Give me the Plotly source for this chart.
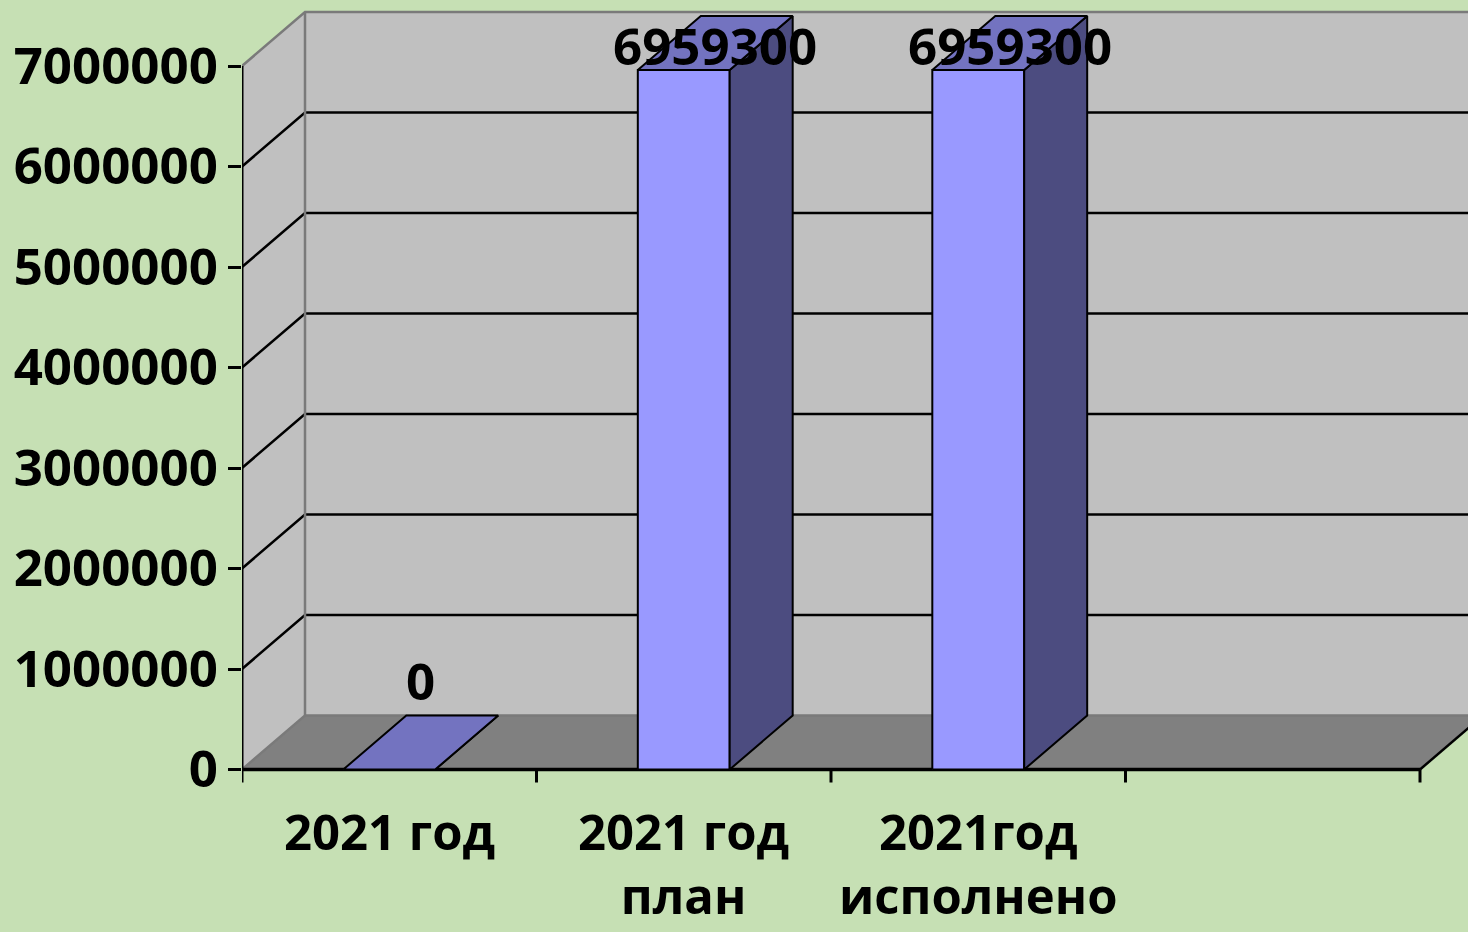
import plotly.graph_objects as go

# ---- data ----
categories = ["2021 год", "2021 год<br>план", "2021год<br>исполнено", ""]
values = [0, 6959300, 6959300, None]
value_labels = ["0", "6959300", "6959300", None]
ytick_vals = [0, 1000000, 2000000, 3000000, 4000000, 5000000, 6000000, 7000000]
ytick_text = [str(v) for v in ytick_vals]

# ---- geometry (in axis units) ----
PX_X = 294.5          # pixels per category
PX_Y = 100.5 / 1e6    # pixels per value unit
DX = 63 / PX_X        # depth offset in category units
DY = 54 / PX_Y        # depth offset in value units
HALF_W = 0.156        # half bar width
NCAT = len(categories)
YMAX = 7000000

BG = "#C6E0B4"
WALL = "#C0C0C0"
FLOOR = "#808080"
EDGE = "#7A7A7A"
FRONT = "#9999FF"
SIDE = "#4C4C80"
TOP = "#7373C0"

fig = go.Figure()


def poly(xs, ys, fill, line_color="black", width=2):
    fig.add_trace(go.Scatter(x=list(xs) + [xs[0]], y=list(ys) + [ys[0]], mode="lines",
                             fill="toself", fillcolor=fill,
                             line=dict(color=line_color, width=width),
                             hoverinfo="skip", showlegend=False))


def line(xs, ys, color="black", width=2):
    fig.add_trace(go.Scatter(x=xs, y=ys, mode="lines", line=dict(color=color, width=width),
                             hoverinfo="skip", showlegend=False))


# back wall
poly([DX, NCAT + DX + 1, NCAT + DX + 1, DX], [DY, DY, YMAX + DY, YMAX + DY], WALL, WALL, 0)
# left wall
poly([0, DX, DX, 0], [0, DY, YMAX + DY, YMAX], WALL, WALL, 0)
# floor
poly([0, NCAT, NCAT + DX, DX], [0, 0, DY, DY], FLOOR, FLOOR, 0)

# gridlines
for v in ytick_vals[1:-1]:
    line([0, DX, NCAT + DX + 1], [v, v + DY, v + DY], "black", 2.5)
# top edges & corner
line([0, DX, NCAT + DX + 1], [YMAX, YMAX + DY, YMAX + DY], EDGE, 2.5)
line([DX, DX], [DY, YMAX + DY], EDGE, 2.5)
# floor edges
line([0, DX, NCAT + DX + 1], [0, DY, DY], EDGE, 2.5)
line([NCAT, NCAT + DX], [0, DY], "black", 2.5)
# axes
line([0, 0], [0, YMAX], "black", 3)
line([0, NCAT], [0, 0], "black", 3.5)
tick_len = 13 / PX_Y
for i in range(NCAT + 1):
    line([i, i], [0, -tick_len], "black", 3)

# bars
for i, v in enumerate(values):
    if v is None:
        continue
    c = i + 0.5
    x0, x1 = c - HALF_W, c + HALF_W
    poly([x0, x1, x1, x0], [0, 0, v, v], FRONT)
    poly([x1, x1 + DX, x1 + DX, x1], [0, DY, v + DY, v], SIDE)
    poly([x0, x1, x1 + DX, x0 + DX], [v, v, v + DY, v + DY], TOP)

FONT = dict(family="Open Sans", size=51, color="black", weight=700)
CAT_FONT = dict(family="Open Sans", size=49, color="black", weight=700)
annotations = []
for i, (v, lab) in enumerate(zip(values, value_labels)):
    if v is None:
        continue
    annotations.append(dict(x=i + 0.5 + DX / 2, y=min(v + 0.89e6, 7.21e6), text=lab,
                            showarrow=False, xanchor="center", yanchor="middle", font=FONT))
for i, cat in enumerate(categories):
    if not cat:
        continue
    annotations.append(dict(x=i + 0.5, y=-27 / PX_Y, text=cat, borderpad=0,
                            showarrow=False, xanchor="center", yanchor="top", font=CAT_FONT))

fig.update_layout(
    width=1468, height=932,
    margin=dict(l=242, r=0, t=0, b=0),
    paper_bgcolor=BG, plot_bgcolor=BG,
    showlegend=False,
    annotations=annotations,
    xaxis=dict(range=[0, (1468 - 242) / PX_X], visible=False, fixedrange=True),
    yaxis=dict(range=[-(932 - 769.5) / PX_Y, 769.5 / PX_Y], showgrid=False, zeroline=False,
               showline=False, tickvals=ytick_vals, ticktext=ytick_text,
               ticks="outside", ticklen=13, tickwidth=3, tickcolor="black",
               ticklabelstandoff=0, tickfont=FONT, automargin=False, fixedrange=True),
)

fig.write_html("out.html", config={"displayModeBar": False},
               post_script="document.body.style.margin='0';document.body.style.overflow='hidden';")
